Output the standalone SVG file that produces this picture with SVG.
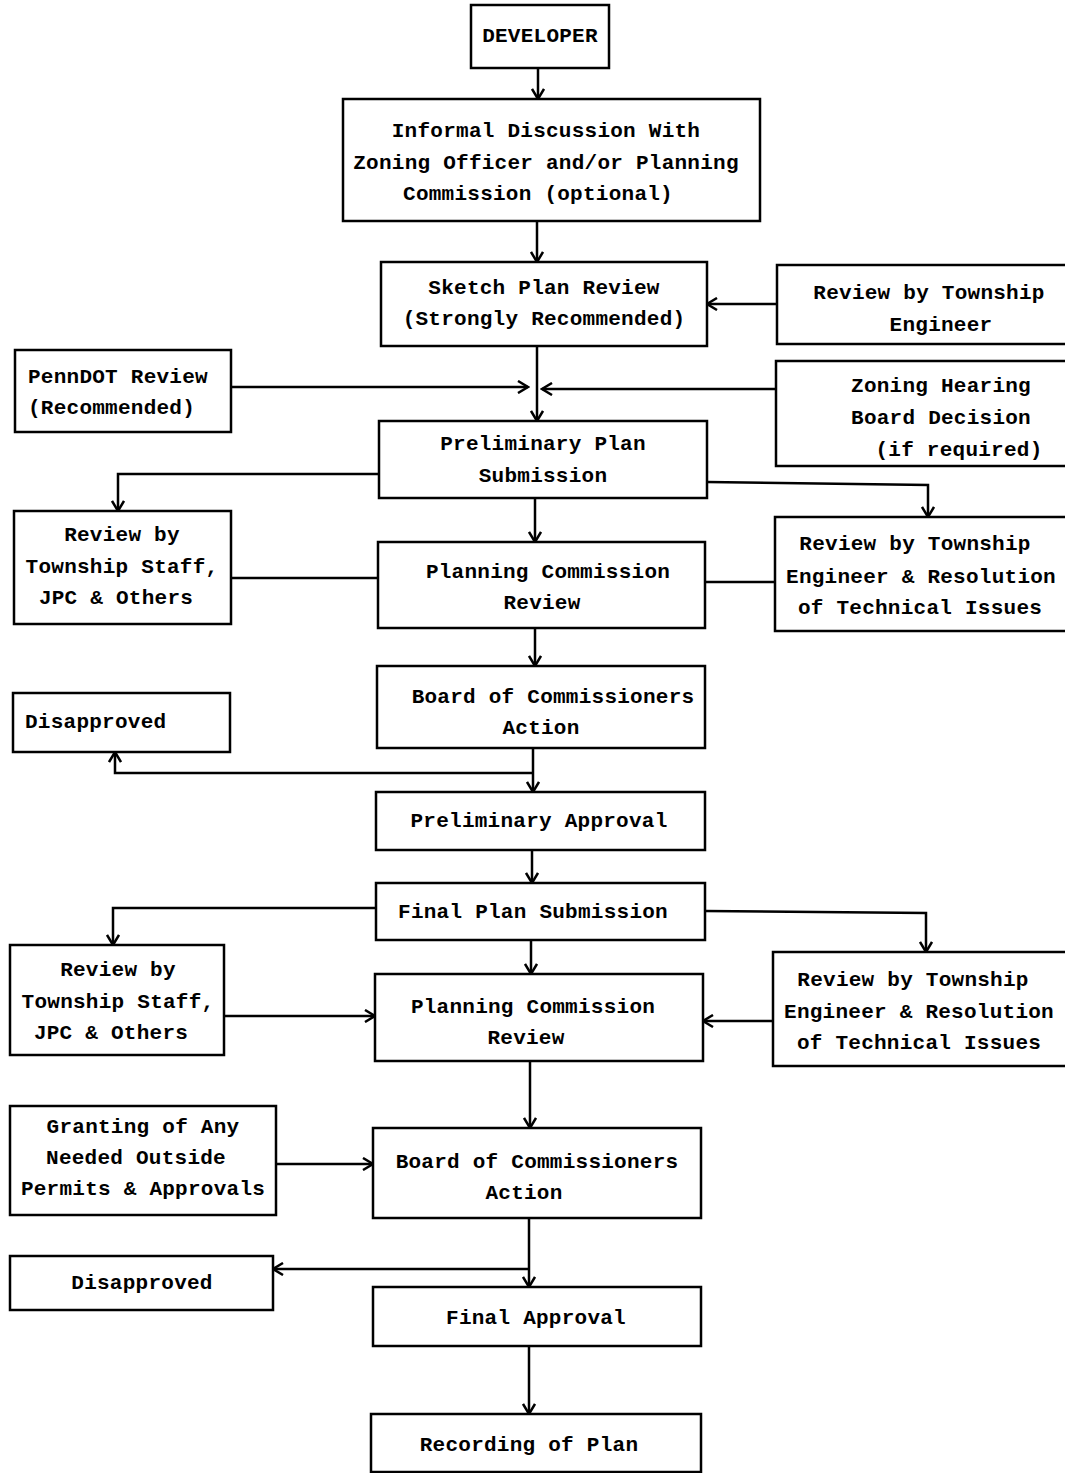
<svg xmlns="http://www.w3.org/2000/svg" width="1065" height="1473" viewBox="0 0 1065 1473">
<style>
.b{fill:#fff;stroke:#000;stroke-width:2.5}
.t{font-family:"Liberation Mono","DejaVu Sans Mono",monospace;font-weight:bold;font-size:21px;letter-spacing:0.25px;fill:#000;text-anchor:middle;dominant-baseline:central}
.l{text-anchor:start}
.c{fill:none;stroke:#000;stroke-width:2.5}
</style>
<defs>
<marker id="a" markerWidth="14" markerHeight="14" refX="12" refY="7" orient="auto" markerUnits="userSpaceOnUse"><path d="M2,1 L12,7 L2,13" fill="none" stroke="#000" stroke-width="2.5"/></marker>
</defs>
<rect width="1065" height="1473" fill="#fff"/>
<g id="connectors">
<path class="c" d="M538,68 V99" marker-end="url(#a)"/>
<path class="c" d="M537,221 V262" marker-end="url(#a)"/>
<path class="c" d="M537,346 V421" marker-end="url(#a)"/>
<path class="c" d="M777,304 H707" marker-end="url(#a)"/>
<path class="c" d="M231,387 H528" marker-end="url(#a)"/>
<path class="c" d="M776,389 H542" marker-end="url(#a)"/>
<path class="c" d="M379,474 H118 V511" marker-end="url(#a)"/>
<path class="c" d="M707,482 L928,485 V517" marker-end="url(#a)"/>
<path class="c" d="M535,498 V542" marker-end="url(#a)"/>
<path class="c" d="M231,578 H378"/>
<path class="c" d="M775,582 H705"/>
<path class="c" d="M535,628 V666" marker-end="url(#a)"/>
<path class="c" d="M533,748 V792" marker-end="url(#a)"/>
<path class="c" d="M533,773 H115 V752" marker-end="url(#a)"/>
<path class="c" d="M532,850 V883" marker-end="url(#a)"/>
<path class="c" d="M376,908 H113 V945" marker-end="url(#a)"/>
<path class="c" d="M705,911 L926,913 V952" marker-end="url(#a)"/>
<path class="c" d="M531,940 V974" marker-end="url(#a)"/>
<path class="c" d="M224,1016 H375" marker-end="url(#a)"/>
<path class="c" d="M773,1021 H703" marker-end="url(#a)"/>
<path class="c" d="M530,1061 V1128" marker-end="url(#a)"/>
<path class="c" d="M276,1164 H373" marker-end="url(#a)"/>
<path class="c" d="M529,1218 V1287" marker-end="url(#a)"/>
<path class="c" d="M529,1269 H273" marker-end="url(#a)"/>
<path class="c" d="M529,1346 V1414" marker-end="url(#a)"/>
</g>
<g id="developer"><rect class="b" x="471" y="5" width="138" height="63"/><text class="t" x="540" y="36">DEVELOPER</text></g>
<g id="informal"><rect class="b" x="343" y="99" width="417" height="122"/><text class="t" x="546" y="131">Informal Discussion With</text><text class="t" x="546" y="163">Zoning Officer and/or Planning</text><text class="t" x="538" y="194">Commission (optional)</text></g>
<g id="sketch"><rect class="b" x="381" y="262" width="326" height="84"/><text class="t" x="544" y="288">Sketch Plan Review</text><text class="t" x="544" y="319">(Strongly Recommended)</text></g>
<g id="engineer-top"><rect class="b" x="777" y="265" width="290" height="79"/><text class="t" x="929" y="293">Review by Township</text><text class="t" x="941" y="325">Engineer</text></g>
<g id="penndot"><rect class="b" x="15" y="350" width="216" height="82"/><text class="t l" x="28" y="377">PennDOT Review</text><text class="t l" x="28" y="408">(Recommended)</text></g>
<g id="zoning"><rect class="b" x="776" y="361" width="291" height="105"/><text class="t" x="941" y="386">Zoning Hearing</text><text class="t" x="941" y="418">Board Decision</text><text class="t" x="959" y="450">(if required)</text></g>
<g id="prelim-sub"><rect class="b" x="379" y="421" width="328" height="77"/><text class="t" x="543" y="444">Preliminary Plan</text><text class="t" x="543" y="476">Submission</text></g>
<g id="staff1"><rect class="b" x="14" y="511" width="217" height="113"/><text class="t" x="122" y="535">Review by</text><text class="t" x="122" y="567">Township Staff,</text><text class="t" x="116" y="598">JPC &amp; Others</text></g>
<g id="pc1"><rect class="b" x="378" y="542" width="327" height="86"/><text class="t" x="548" y="572">Planning Commission</text><text class="t" x="542" y="603">Review</text></g>
<g id="engineer1"><rect class="b" x="775" y="517" width="292" height="114"/><text class="t" x="915" y="544">Review by Township</text><text class="t" x="921" y="577">Engineer &amp; Resolution</text><text class="t" x="920" y="608">of Technical Issues</text></g>
<g id="board1"><rect class="b" x="377" y="666" width="328" height="82"/><text class="t" x="553" y="697">Board of Commissioners</text><text class="t" x="541" y="728">Action</text></g>
<g id="disapproved1"><rect class="b" x="13" y="693" width="217" height="59"/><text class="t l" x="25" y="722">Disapproved</text></g>
<g id="prelim-approval"><rect class="b" x="376" y="792" width="329" height="58"/><text class="t" x="539" y="821">Preliminary Approval</text></g>
<g id="final-sub"><rect class="b" x="376" y="883" width="329" height="57"/><text class="t" x="533" y="912">Final Plan Submission</text></g>
<g id="staff2"><rect class="b" x="10" y="945" width="214" height="110"/><text class="t" x="118" y="970">Review by</text><text class="t" x="118" y="1002">Township Staff,</text><text class="t" x="111" y="1033">JPC &amp; Others</text></g>
<g id="pc2"><rect class="b" x="375" y="974" width="328" height="87"/><text class="t" x="533" y="1007">Planning Commission</text><text class="t" x="526" y="1038">Review</text></g>
<g id="engineer2"><rect class="b" x="773" y="952" width="294" height="114"/><text class="t" x="913" y="980">Review by Township</text><text class="t" x="919" y="1012">Engineer &amp; Resolution</text><text class="t" x="919" y="1043">of Technical Issues</text></g>
<g id="granting"><rect class="b" x="10" y="1106" width="266" height="109"/><text class="t" x="143" y="1127">Granting of Any</text><text class="t" x="136" y="1158">Needed Outside</text><text class="t" x="143" y="1189">Permits &amp; Approvals</text></g>
<g id="board2"><rect class="b" x="373" y="1128" width="328" height="90"/><text class="t" x="537" y="1162">Board of Commissioners</text><text class="t" x="524" y="1193">Action</text></g>
<g id="disapproved2"><rect class="b" x="10" y="1256" width="263" height="54"/><text class="t" x="142" y="1283">Disapproved</text></g>
<g id="final-approval"><rect class="b" x="373" y="1287" width="328" height="59"/><text class="t" x="536" y="1318">Final Approval</text></g>
<g id="recording"><rect class="b" x="371" y="1414" width="330" height="58"/><text class="t" x="529" y="1445">Recording of Plan</text></g>
</svg>
